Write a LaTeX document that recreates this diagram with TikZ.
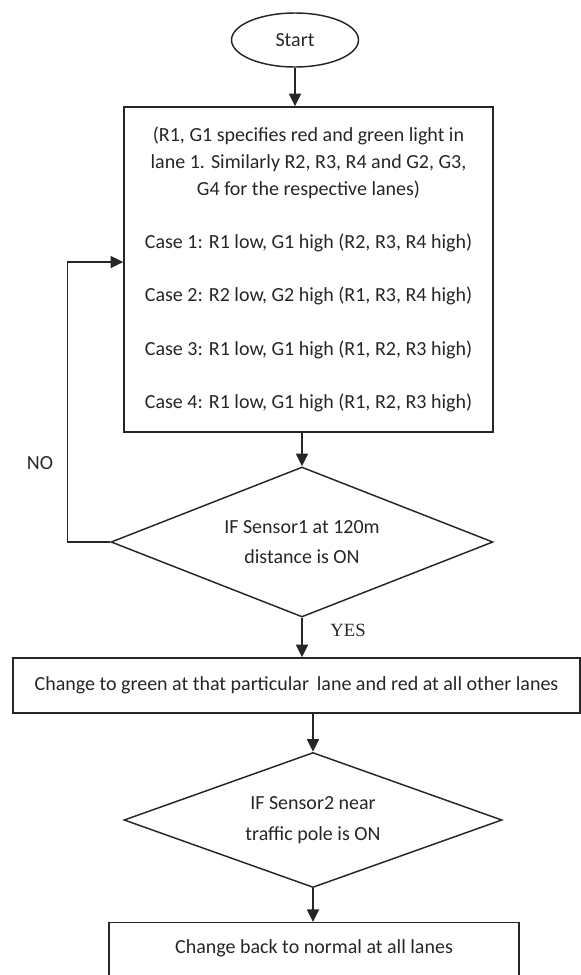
\documentclass[tikz,border=0pt]{standalone}
\usepackage{fontspec}
\setmainfont{Carlito}
\newfontfamily\yesfont{Liberation Serif}
\usetikzlibrary{shapes.geometric}
\usetikzlibrary{arrows.meta}

\begin{document}
\begin{tikzpicture}[x=0.75pt,y=-0.75pt,line width=1.1pt,color=black!85,
	>={Triangle[length=9.5pt,width=9pt]},
	every node/.style={font=\fontsize{15pt}{20pt}\selectfont},
	decision/.style={diamond,draw,inner sep=0pt,align=center}]
	\useasboundingbox (0,0) rectangle (581,975);
	\clip (0,0) rectangle (581,975);

		\node (start)[ellipse,draw,minimum width=95.25pt,minimum height=40.5pt] at (295,40) {Start};

		\node (box)[rectangle,draw,align=center,minimum width=276.75pt,minimum height=243.75pt] at (308.5,269.5)
			{(R1, G1 specifies red and green light in\\
			lane 1. Similarly R2, R3, R4 and G2, G3,\\
			G4 for the respective lanes)\\[20pt]
			Case 1: R1 low, G1 high (R2, R3, R4 high)\\[20pt]
			Case 2: R2 low, G2 high (R1, R3, R4 high)\\[20pt]
			Case 3: R1 low, G1 high (R1, R2, R3 high)\\[20pt]
			Case 4: R1 low, G1 high (R1, R2, R3 high)};

		\node (dec1)[decision,aspect=2.55,minimum width=286.5pt,minimum height=112.5pt] at (302,542)
			{IF Sensor1 at 120m\\[3pt] distance is ON};

		\node (act)[rectangle,draw,minimum width=425.25pt,minimum height=41.25pt] at (296.5,685.5)
			{Change to green at that particular\, lane and red at all other lanes};

		\node (dec2)[decision,aspect=2.8,minimum width=283.5pt,minimum height=101.25pt] at (313,820)
			{IF Sensor2 near\\[3pt] traffic pole is ON};

		\node (last)[rectangle,draw,anchor=north,minimum width=307.5pt,inner ysep=13pt,text height=10pt,text depth=30pt] at (314,922)
			{Change back to normal at all lanes};

		\node (no) at (40,463) {NO};
		\node (yes)[font=\yesfont\fontsize{14pt}{16pt}\selectfont] at (348,630) {YES};

		\draw[->] (start.south) -- (start.south |- box.north);
		\draw[->] (dec1.north |- box.south) -- (dec1.north);
		\draw[->] (dec1.south) -- (dec1.south |- act.north);
		\draw[->] (dec2.north |- act.south) -- (dec2.north);
		\draw[->] (dec2.south) -- (dec2.south |- last.north);
		\draw[->] (dec1.west) -- ++(-43,0) |- ([yshift=5.6pt]box.west);
	\end{tikzpicture}
\end{document}
